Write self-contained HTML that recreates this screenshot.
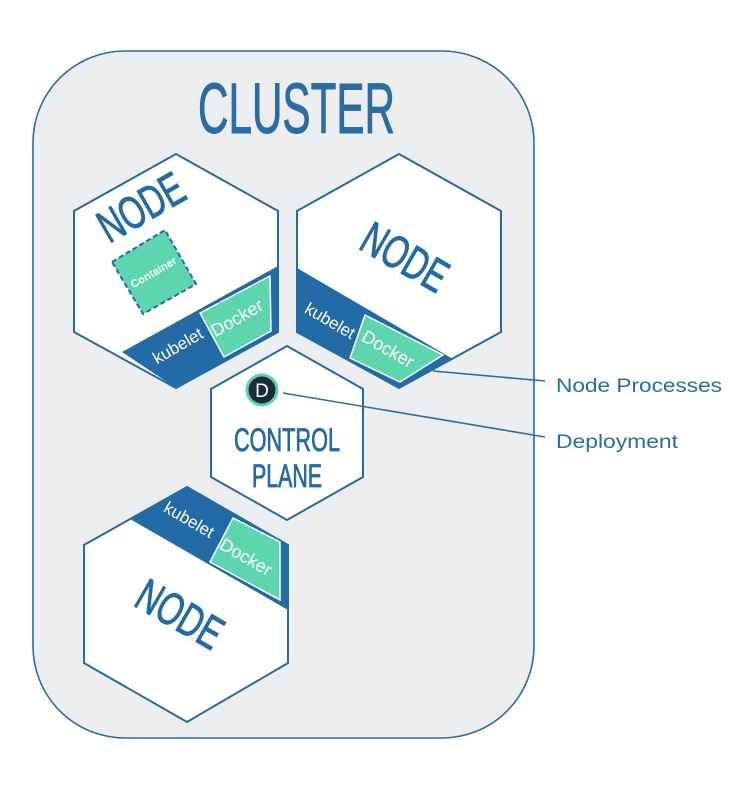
<!DOCTYPE html>
<html><head><style>html,body{margin:0;padding:0;background:#fff;}svg{display:block;}</style></head>
<body>
<svg width="735" height="800" viewBox="0 0 735 800" xmlns="http://www.w3.org/2000/svg" font-family="Liberation Sans, sans-serif">
<rect x="33" y="51" width="501" height="687" rx="92" ry="92" fill="#edeef0" stroke="#2a6ca5" stroke-width="1.6"/>
<text x="198" y="133" font-size="71" fill="#2a6ca5" stroke="#2a6ca5" stroke-width="1" textLength="197" lengthAdjust="spacingAndGlyphs">CLUSTER</text>

<line x1="433" y1="371" x2="545" y2="381" stroke="#2a6ca5" stroke-width="1.6"/>
<text x="556" y="392" font-size="19" fill="#2a6ca5" textLength="166" lengthAdjust="spacingAndGlyphs">Node Processes</text>
<text x="556" y="448" font-size="19" fill="#2a6ca5" textLength="122" lengthAdjust="spacingAndGlyphs">Deployment</text>

<!-- Hex 1 top-left -->
<polygon points="176,154 278,211 278,332 176,388 74,332 74,211" fill="#fff"/>
<polygon points="122,352 278,266 278,332 176,388" fill="#236ba6"/>
<polygon points="176,154 278,211 278,332 176,388 74,332 74,211" fill="none" stroke="#236ba6" stroke-width="2"/>
<polygon points="200,313 270,276 271,331 224,357" fill="#5dd6b0" stroke="#fff" stroke-width="1.5"/>
<polygon points="112,262 165,230 196,284 143,314" fill="#5dd6b0" stroke="#236ba6" stroke-width="2" stroke-dasharray="5,3"/>
<text transform="translate(154,273) rotate(-30)" text-anchor="middle" dominant-baseline="central" font-size="11" font-weight="bold" fill="#fff">Container</text>
<text transform="translate(141,207) rotate(-30)" text-anchor="middle" dominant-baseline="central" font-size="46" fill="#236ba6" stroke="#236ba6" stroke-width="1" textLength="92" lengthAdjust="spacingAndGlyphs">NODE</text>
<text transform="translate(178,346) rotate(-30)" text-anchor="middle" dominant-baseline="central" font-size="17" fill="#fff">kubelet</text>
<text transform="translate(237,318) rotate(-30)" text-anchor="middle" dominant-baseline="central" font-size="18" fill="#fff">Docker</text>

<!-- Hex 2 top-right -->
<polygon points="399,154 501,211 501,332 399,388 297,332 297,211" fill="#fff"/>
<polygon points="297,268 453,359 399,388 297,332" fill="#236ba6"/>
<polygon points="399,154 501,211 501,332 399,388 297,332 297,211" fill="none" stroke="#236ba6" stroke-width="2"/>
<polygon points="365,315 443,355 400,382 350,358" fill="#5dd6b0" stroke="#fff" stroke-width="1.5"/>
<text transform="translate(405,257) rotate(30)" text-anchor="middle" dominant-baseline="central" font-size="46" fill="#236ba6" stroke="#236ba6" stroke-width="1" textLength="92" lengthAdjust="spacingAndGlyphs">NODE</text>
<text transform="translate(330,321) rotate(30)" text-anchor="middle" dominant-baseline="central" font-size="17" fill="#fff">kubelet</text>
<text transform="translate(388,349) rotate(30)" text-anchor="middle" dominant-baseline="central" font-size="18" fill="#fff">Docker</text>

<!-- Control plane -->
<polygon points="287,346 363,389 363,477 287,520 211,477 211,389" fill="#fff" stroke="#236ba6" stroke-width="2"/>
<line x1="283" y1="393" x2="545" y2="437" stroke="#2a6ca5" stroke-width="1.6"/>
<circle cx="262" cy="390" r="15" fill="#1c2b39" stroke="#5dd6b0" stroke-width="3"/>
<text x="262" y="397" text-anchor="middle" font-size="19" fill="#fff">D</text>
<text x="287" y="451" text-anchor="middle" font-size="32" fill="#236ba6" stroke="#236ba6" stroke-width="0.8" textLength="106" lengthAdjust="spacingAndGlyphs">CONTROL</text>
<text x="287" y="487" text-anchor="middle" font-size="32" fill="#236ba6" stroke="#236ba6" stroke-width="0.8" textLength="70" lengthAdjust="spacingAndGlyphs">PLANE</text>

<!-- Bottom hex -->
<polygon points="187,487 288,545 288,663 187,722 84,663 84,545" fill="#fff"/>
<polygon points="130,519 187,487 288,545 288,610" fill="#236ba6"/>
<polygon points="187,487 288,545 288,663 187,722 84,663 84,545" fill="none" stroke="#236ba6" stroke-width="2"/>
<polygon points="233,518 280,542 280,600 210,562" fill="#5dd6b0" stroke="#fff" stroke-width="1.5"/>
<text transform="translate(180,614) rotate(30)" text-anchor="middle" dominant-baseline="central" font-size="46" fill="#236ba6" stroke="#236ba6" stroke-width="1" textLength="92" lengthAdjust="spacingAndGlyphs">NODE</text>
<text transform="translate(189,520) rotate(30)" text-anchor="middle" dominant-baseline="central" font-size="17" fill="#fff">kubelet</text>
<text transform="translate(246,557) rotate(30)" text-anchor="middle" dominant-baseline="central" font-size="18" fill="#fff">Docker</text>
</svg>
</body></html>
